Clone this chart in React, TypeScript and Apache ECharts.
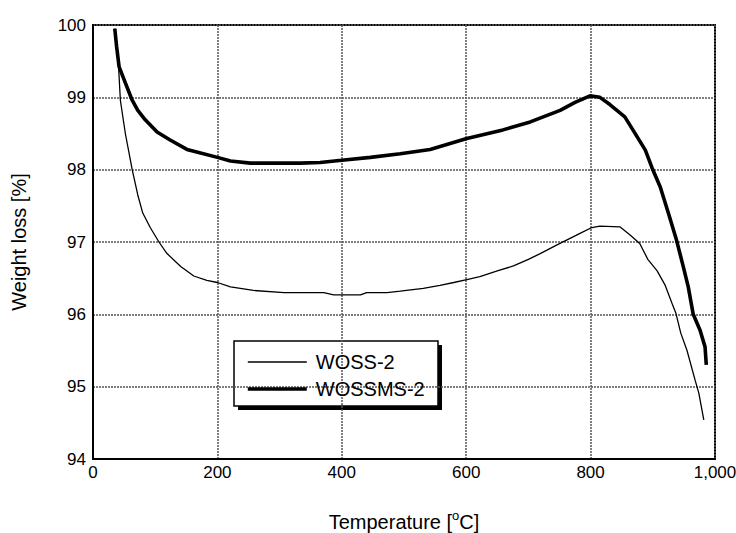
import React, { useEffect, useRef } from "react";
import * as echarts from "echarts";

// Thermogravimetric curves: [temperature °C, weight %]
const wossTemp = [35, 40, 44, 52, 63, 72, 80, 92, 106, 119, 141, 162, 183, 200, 221, 258, 307, 371, 387, 430, 440, 473, 494, 531, 558, 580, 601, 622, 650, 676, 700, 719, 746, 783, 802, 815, 847, 863, 879, 892, 907, 920, 931, 937, 945, 955, 968, 974, 982];
const wossWeight = [99.95, 99.6, 98.96, 98.5, 98.0, 97.65, 97.4, 97.2, 97.0, 96.84, 96.66, 96.53, 96.47, 96.44, 96.38, 96.33, 96.3, 96.3, 96.27, 96.27, 96.3, 96.3, 96.32, 96.36, 96.4, 96.44, 96.48, 96.52, 96.6, 96.67, 96.76, 96.84, 96.96, 97.12, 97.2, 97.22, 97.21, 97.1, 96.98, 96.76, 96.6, 96.4, 96.15, 96.02, 95.74, 95.5, 95.09, 94.91, 94.54];

const wossmsTemp = [35, 38, 42, 52, 63, 72, 84, 103, 124, 151, 173, 200, 221, 253, 333, 365, 400, 446, 494, 542, 601, 659, 703, 751, 775, 799, 815, 831, 855, 868, 888, 899, 912, 925, 938, 949, 957, 965, 976, 984, 986];
const wossmsWeight = [99.95, 99.7, 99.42, 99.2, 98.96, 98.82, 98.69, 98.52, 98.41, 98.28, 98.23, 98.17, 98.12, 98.09, 98.09, 98.1, 98.13, 98.17, 98.22, 98.28, 98.43, 98.55, 98.66, 98.82, 98.93, 99.02, 99.0, 98.9, 98.73, 98.55, 98.27, 98.02, 97.76, 97.4, 97.03, 96.66, 96.38, 96.0, 95.78, 95.55, 95.3];

const seriesNames = ["WOSS-2", "WOSSMS-2"];
const lineWidths = [1.3, 3.6];

const FONT = "'Liberation Sans', Arial, Helvetica, sans-serif";

const zip = (xs: number[], ys: number[]) => xs.map((x, i) => [x, ys[i]]);

export default function App() {
  const ref = useRef<HTMLDivElement>(null);

  useEffect(() => {
    if (!ref.current) return;
    const chart = echarts.init(ref.current, null, { renderer: "svg" });

    const gridLine = { show: true, lineStyle: { color: "#555", width: 1.5, type: [2, 1] as number[] } };

    chart.setOption({
      animation: false,
      backgroundColor: "#fff",
      textStyle: { fontFamily: FONT },
      grid: {
        left: 93,
        right: 21,
        top: 25,
        bottom: 74,
        outerBoundsMode: "none",
        containLabel: false,
        show: true,
        borderColor: "#000",
        borderWidth: 2,
        backgroundColor: "transparent",
      },
      xAxis: {
        type: "value",
        min: 0,
        max: 1000,
        interval: 200,
        axisLine: { show: true, lineStyle: { color: "#000", width: 2 } },
        axisTick: { show: false },
        axisLabel: {
          color: "#000",
          fontSize: 17,
          fontFamily: FONT,
          margin: 5,
          formatter: (v: number) => v.toLocaleString("en-US"),
        },
        splitLine: gridLine,
        name: "{a|Temperature [}{s|o}{a|C]}",
        nameLocation: "middle",
        nameGap: 50,
        nameTextStyle: {
          rich: {
            a: { fontSize: 20, fontFamily: FONT, color: "#000", lineHeight: 26 },
            s: { fontSize: 13, fontFamily: FONT, color: "#000", lineHeight: 26, verticalAlign: "top" },
          },
        },
      },
      yAxis: {
        type: "value",
        min: 94,
        max: 100,
        interval: 1,
        axisLine: { show: true, lineStyle: { color: "#000", width: 2 } },
        axisTick: { show: false },
        axisLabel: { color: "#000", fontSize: 17, fontFamily: FONT, margin: 7 },
        splitLine: gridLine,
        name: "Weight loss [%]",
        nameLocation: "middle",
        nameGap: 64,
        nameTextStyle: { fontSize: 20, fontFamily: FONT, color: "#000" },
      },
      graphic: [
        {
          type: "group",
          z: 3,
          children: [
            { type: "rect", shape: { x: 238, y: 345, width: 204, height: 65 }, style: { fill: "#000" } },
            {
              type: "rect",
              shape: { x: 234, y: 341, width: 204, height: 65 },
              style: { fill: "#fff", stroke: "#000", lineWidth: 1.5 },
            },
          ],
        },
      ],
      legend: {
        z: 5,
        orient: "vertical",
        left: 234,
        top: 341,
        padding: [11, 10, 7, 12],
        itemWidth: 59,
        itemHeight: 20,
        itemGap: 7,
        data: seriesNames.map((name, i) => ({
          name,
          itemStyle: { opacity: 0 },
          lineStyle: { color: "#000", width: lineWidths[i] },
        })),
        textStyle: { color: "#000", fontSize: 20, fontFamily: FONT, lineHeight: 20, padding: [0, 0, 0, 4] },
        selectedMode: false,
      },
      series: seriesNames.map((name, i) => ({
        name,
        type: "line",
        data: i === 0 ? zip(wossTemp, wossWeight) : zip(wossmsTemp, wossmsWeight),
        showSymbol: false,
        symbol: "none",
        lineStyle: { color: "#000", width: lineWidths[i] },
        itemStyle: { color: "#000" },
        z: 2,
      })),
    });

    return () => chart.dispose();
  }, []);

  return <div ref={ref} style={{ width: 736, height: 533, position: "absolute", left: 0, top: 0 }} />;
}
